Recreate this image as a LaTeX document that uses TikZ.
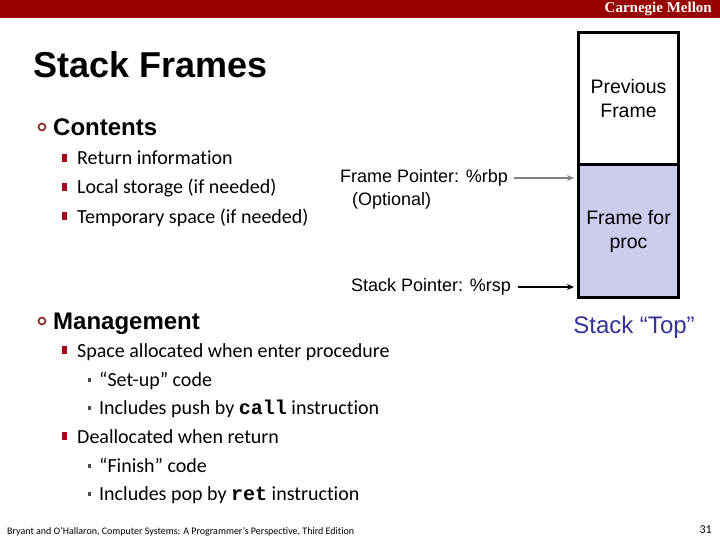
\documentclass[tikz,border=0pt]{standalone}
\usepackage{fontspec}
\setmainfont{Liberation Sans}
\setmonofont{Liberation Mono}
\newfontfamily\calibrifont[Ligatures=NoCommon]{Carlito}
\newfontfamily\cmufont{Liberation Serif}
\usetikzlibrary{arrows.meta,positioning,calc}
\definecolor{cmured}{RGB}{153,0,0}
\definecolor{bulletred}{RGB}{165,0,33}
\definecolor{ringred}{RGB}{128,32,32}
\definecolor{framelavender}{RGB}{204,204,238}
\definecolor{topblue}{RGB}{51,51,153}
\definecolor{pointergray}{RGB}{128,128,128}
\tikzset{
  slidetitle/.style={
    anchor=base west, inner sep=0pt,
    font=\fontsize{36}{40}\selectfont\bfseries
  },
  heading/.style={
    anchor=base west, inner sep=0pt,
    font=\fontsize{24}{28}\selectfont\bfseries
  },
  itemtext/.style={
    anchor=base west, inner sep=0pt,
    font=\calibrifont\fontsize{20}{24}\selectfont
  },
  ringbullet/.style={
    circle, draw=ringred, line width=1.6pt,
    minimum size=7pt, inner sep=0pt
  },
  squarebullet/.style={
    rectangle, fill=bulletred, minimum width=5.5pt,
    minimum height=7.5pt, inner sep=0pt
  },
  dotbullet/.style={
    rectangle, fill=black!70, minimum size=3.5pt, inner sep=0pt
  },
  pointerlabel/.style={
    anchor=west, inner sep=0pt, font=\fontsize{18}{20}\selectfont
  },
  stackframe/.style={
    draw, line width=3pt, outer sep=0pt, minimum width=100pt,
    minimum height=132pt, align=center, inner sep=2pt,
    font=\fontsize{19.5}{24}\selectfont
  },
  fpflow/.style={-{Stealth[length=7pt,width=6pt]}, line width=2pt, draw=pointergray},
  spflow/.style={-{Stealth[length=7pt,width=6pt]}, line width=2pt, draw=black}
}

\begin{document}
\begin{tikzpicture}[x=1pt,y=-1pt]
  \useasboundingbox (0,0) rectangle (720,540);
  % Banner
  \fill[cmured] (0,0) rectangle (720,18);
  \node[anchor=base east, inner sep=0pt, text=white,
    font=\cmufont\bfseries\fontsize{15}{16}\selectfont] (cmu) at (712,13)
    {Carnegie Mellon};
  \node[slidetitle] (title) at (33,78) {Stack Frames};

  % Contents
  \node[ringbullet] (rb1) at (42,127) {};
  \node[heading] (contents) at (53,136) {Contents};
  \node[squarebullet] (sb1) at (64.5,158) {};
  \node[itemtext] (ret) at (77,165) {Return information};
  \node[squarebullet] (sb2) at (64.5,187) {};
  \node[itemtext] (local) at (77,194) {Local storage (if needed)};
  \node[squarebullet] (sb3) at (64.5,216) {};
  \node[itemtext] (temp) at (77,223) {Temporary space (if needed)};

  % Management
  \node[ringbullet] (rb2) at (42,321) {};
  \node[heading] (manage) at (53,329) {Management};
  \node[squarebullet] (sb4) at (64.5,350) {};
  \node[itemtext] (alloc) at (77,357) {Space allocated when enter procedure};
  \node[dotbullet] (db1) at (89.5,380) {};
  \node[itemtext] (setup) at (99,386) {“Set-up” code};
  \node[dotbullet] (db2) at (89.5,408) {};
  \node[itemtext] (push) at (99,414)
    {Includes push by {\ttfamily\bfseries call} instruction};
  \node[squarebullet] (sb5) at (64.5,436) {};
  \node[itemtext] (dealloc) at (77,443) {Deallocated when return};
  \node[dotbullet] (db3) at (89.5,466) {};
  \node[itemtext] (finish) at (99,472) {“Finish” code};
  \node[dotbullet] (db4) at (89.5,494) {};
  \node[itemtext] (pop) at (99,500)
    {Includes pop by {\ttfamily\bfseries ret} instruction};

  % Stack
  \node[stackframe] (prev) at (628.5,99) {Previous\\Frame};
  \node[stackframe, fill=framelavender, below=0pt of prev] (proc) {Frame for\\proc};
  \node[anchor=base, inner sep=0pt, text=topblue,
    font=\fontsize{24}{26}\selectfont] (top) at (634,333) {Stack “Top”};

  % Pointers
  \node[pointerlabel] (fp) at (340,178) {Frame Pointer: \%rbp};
  \node[pointerlabel, anchor=base west] (opt) at (352,206) {(Optional)};
  \node[pointerlabel] (sp) at (351,287) {Stack Pointer: \%rsp};
  \coordinate (fptip) at (574,178);
  \coordinate (sptip) at (574,287);
  \draw[fpflow] ([xshift=6pt]fp.east) -- (fptip);
  \draw[spflow] ([xshift=7pt]sp.east) -- (sptip);

  % Footer
  \node[anchor=base west, inner sep=0pt,
    font=\calibrifont\fontsize{10}{12}\selectfont] (cite) at (7,534)
    {Bryant and O’Hallaron, Computer Systems: A Programmer’s Perspective, Third Edition};
  \node[anchor=base east, inner sep=0pt,
    font=\calibrifont\fontsize{12}{14}\selectfont] (page) at (712,533) {31};
\end{tikzpicture}
\end{document}
